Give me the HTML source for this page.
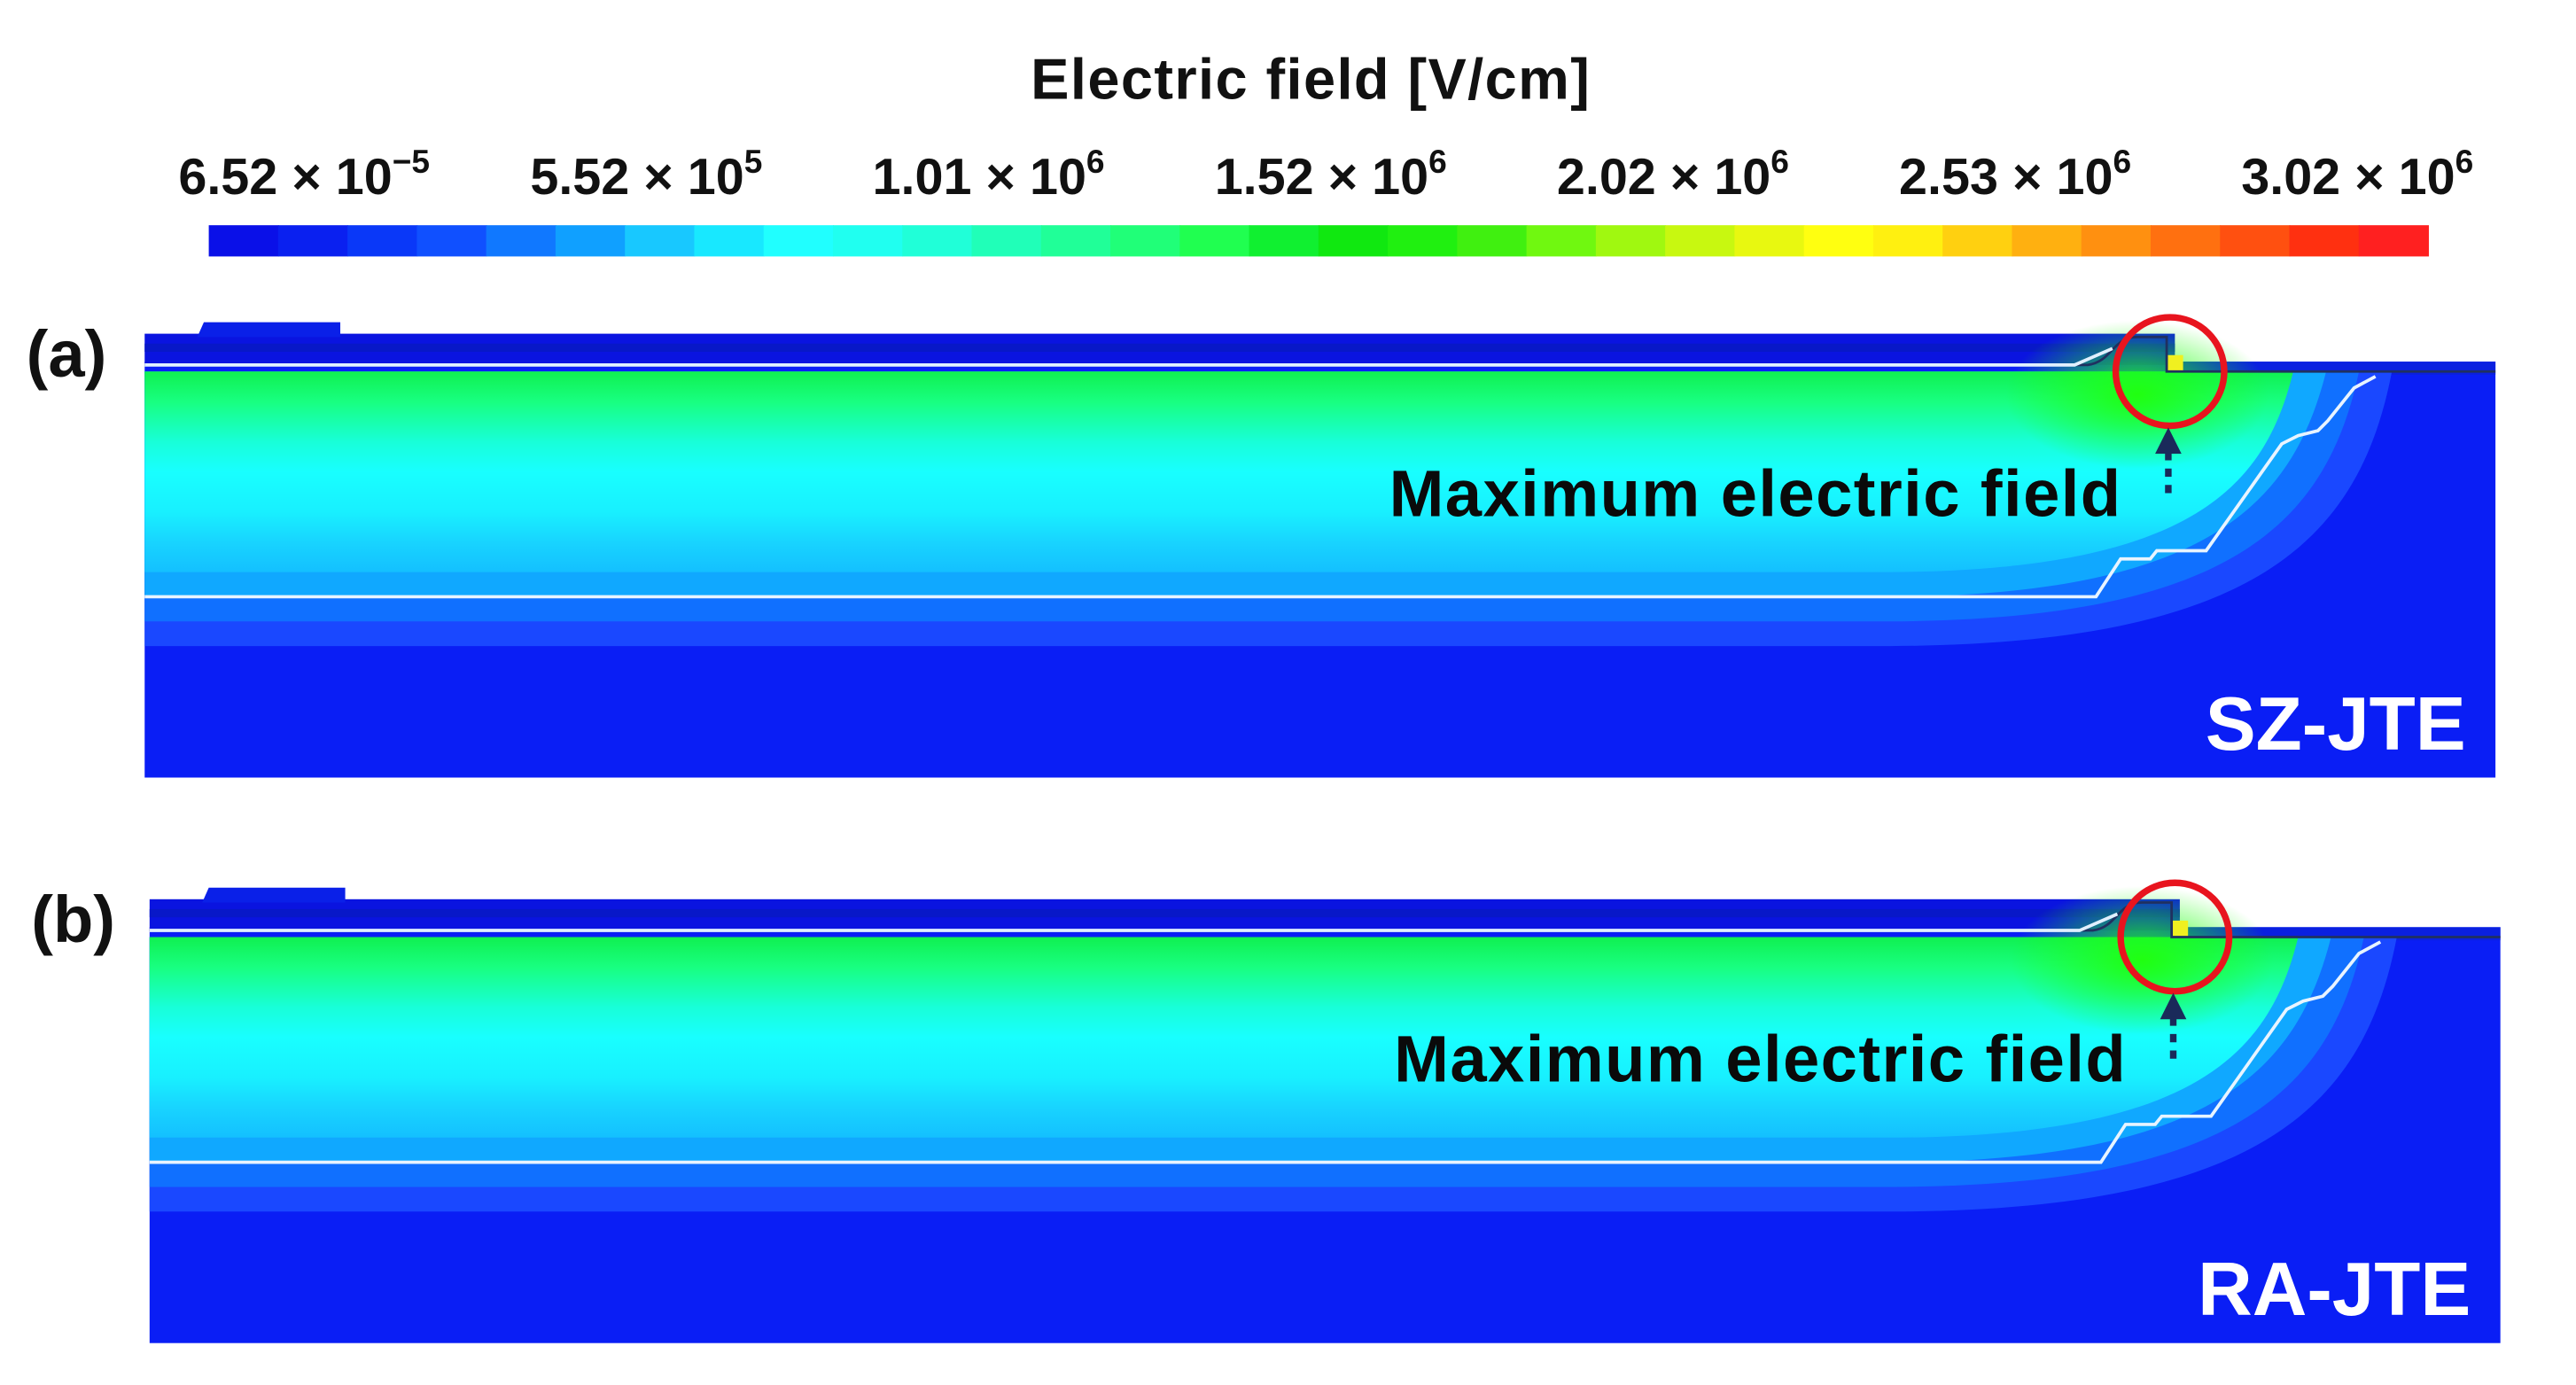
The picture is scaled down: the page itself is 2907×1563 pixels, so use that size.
<!DOCTYPE html>
<html><head><meta charset="utf-8"><style>
html,body{margin:0;padding:0;background:#fff;}
svg{display:block;}
text{font-family:"Liberation Sans",sans-serif;font-weight:bold;}
</style></head><body>
<svg id="fig" width="2907" height="1563" viewBox="0 0 1567 842.5" preserveAspectRatio="none" xmlns="http://www.w3.org/2000/svg">
<defs>
<linearGradient id="fieldA" x1="0" y1="0" x2="0" y2="1">
<stop offset="0" stop-color="#10f050"/><stop offset="0.15" stop-color="#18ff80"/>
<stop offset="0.35" stop-color="#18ffd8"/><stop offset="0.5" stop-color="#18ffff"/>
<stop offset="0.7" stop-color="#18f0ff"/><stop offset="0.85" stop-color="#18d4ff"/>
<stop offset="1" stop-color="#14c0ff"/>
</linearGradient>
<radialGradient id="hot" cx="0.5" cy="0.5" r="0.5">
<stop offset="0" stop-color="#20ff10"/><stop offset="1" stop-color="#20ff10" stop-opacity="0"/>
</radialGradient>
</defs>
<text x="797" y="60" font-size="35" text-anchor="middle" fill="#111" textLength="340">Electric field [V/cm]</text>
<g id="cbar"></g>
<g id="ticks"></g>
<g id="panels"></g>
</svg>
<script>
const cbColors = ["#0a10e8","#0a20f0","#0a38f8","#1050ff","#1078ff","#10a0ff","#18c8ff","#18e8ff","#20ffff","#20fff0","#20ffd8","#20ffb8","#20ff98","#20ff78","#20ff50","#10f030","#10e810","#20f010","#40f010","#70f810","#a0f810","#c8f810","#e8f810","#ffff10","#fff010","#ffd010","#ffb010","#ff9010","#ff7010","#ff5010","#ff3010","#ff2020"];
const tickMant = ["6.52","5.52","1.01","1.52","2.02","2.53","3.02"];
const tickExp = ["−5","5","6","6","6","6","6"];
const NS="http://www.w3.org/2000/svg";
const svg=document.getElementById('fig');
function mk(tag,attrs,parent){const e=document.createElementNS(NS,tag);for(const k in attrs)e.setAttribute(k,attrs[k]);(parent||svg).appendChild(e);return e;}
const bx0=127,bx1=1477,by=137,bh=19;
const cb=document.getElementById('cbar');
const sw=(bx1-bx0)/cbColors.length;
cbColors.forEach((c,i)=>{const r=mk('rect',{x:bx0+i*sw,y:by,width:sw+0.5,height:bh,fill:c},cb);

});
const tk=document.getElementById('ticks');
const tx0=185,tx1=1434;
tickMant.forEach((m,i)=>{const x=tx0+(tx1-tx0)*i/(tickMant.length-1);
const t=mk('text',{x:x,y:118,'font-size':31,'text-anchor':'middle',fill:'#111'},tk);


t.textContent=m+" × 10";
const s=mk('tspan',{'font-size':20,dy:-13},t);s.textContent=tickExp[i];});

function panel(dy,label,name,dx){
 const g=mk('g',{transform:`translate(${dx},${dy})`},document.getElementById('panels'));
 
 
 mk('rect',{x:88,y:220,width:1430,height:253,fill:'#0a1ef5'},g);
 mk('rect',{x:88,y:203,width:1235,height:19,fill:'#0a14e0'},g);
 mk('rect',{x:88,y:209,width:1235,height:5,fill:'#0818c8'},g);
 mk('path',{d:'M120,205 L124,196 L207,196 L207,205 Z',fill:'#0a20e8'},g);
 mk('rect',{x:1323,y:220,width:195,height:8,fill:'#0a20e0'},g);
 // field bands
 mk('path',{d:'M88,226 L1455,226 C1435,330 1370,392 1150,393 L88,393 Z',fill:'#1a48ff'},g);
 mk('path',{d:'M88,226 L1435,226 C1415,320 1355,377 1150,378 L88,378 Z',fill:'#1070ff'},g);
 mk('path',{d:'M88,226 L1415,226 C1395,305 1345,362 1150,363 L88,363 Z',fill:'#10a8ff'},g);
 mk('path',{d:'M88,226 L1395,226 C1378,295 1335,347 1150,348 L88,348 Z',fill:'url(#fieldA)'},g);
 mk('ellipse',{cx:1300,cy:240,rx:80,ry:45,fill:'url(#hot)'},g);
 mk('rect',{x:1318,y:216,width:10,height:10,fill:'#f0f020'},g);
 mk('path',{d:'M88,222 L1270,222 C1285,220 1285,205 1300,205 L1318,205 L1318,226 L1518,226',fill:'none',stroke:'#203060','stroke-width':1.5},g);
 mk('path',{d:'M88,222 L250,222 L1262,222 L1285,212',fill:'none',stroke:'#e0f0ff','stroke-width':2},g);
 mk('path',{d:'M88,363 L1275,363 L1290,340 L1308,340 L1312,335 L1342,335 L1388,270 L1398,265 L1410,262 L1416,256 L1432,236 L1445,229',fill:'none',stroke:'#e8f4ff','stroke-width':2},g);
 mk('ellipse',{cx:1320,cy:226,rx:33,ry:33,fill:'none',stroke:'#e8141e','stroke-width':4},g);
 mk('line',{x1:1319,y1:300,x2:1319,y2:275,stroke:'#1a2a5a','stroke-width':4,'stroke-dasharray':'5,5'},g);
 mk('path',{d:'M1311,276 L1319,260 L1327,276 Z',fill:'#1a2a5a'},g);
 const t1=mk('text',{x:1290,y:314,'font-size':40,'text-anchor':'end',fill:'#0a0a0a',textLength:445},g);
 
 
 t1.textContent='Maximum electric field';
 const t2=mk('text',{x:1500,y:456,'font-size':46,'text-anchor':'end',fill:'#ffffff'},g);
 
 
 t2.textContent=name;
 const t3=mk('text',{x:16,y:229,'font-size':40,fill:'#111'},g);
 
 
 t3.textContent=label;
}
panel(0,'(a)','SZ-JTE',0);
panel(344,'(b)','RA-JTE',3);
</script>
</body></html>
